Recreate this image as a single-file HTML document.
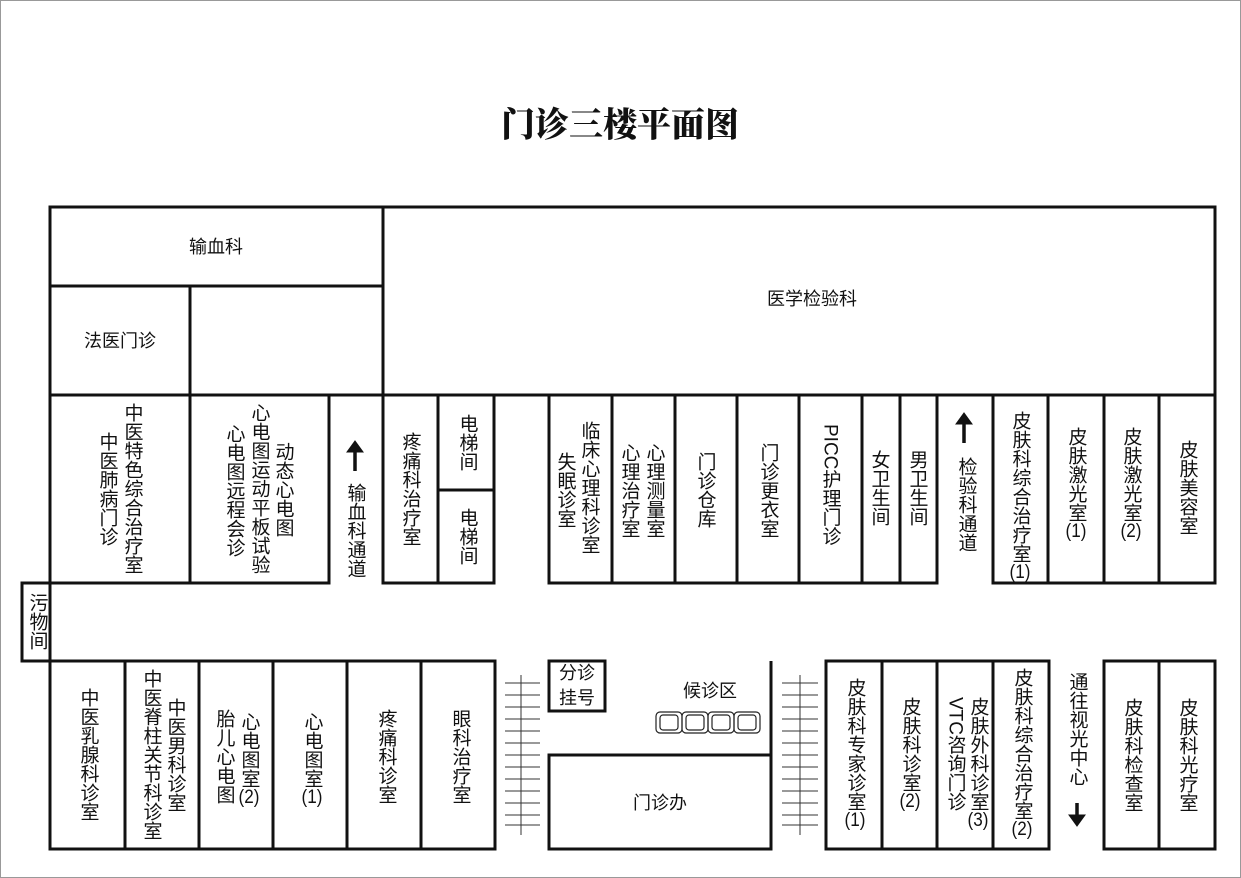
<!DOCTYPE html>
<html><head><meta charset="utf-8">
<style>
html,body{margin:0;padding:0;background:#fff}
#p{position:relative;width:1241px;height:878px;overflow:hidden;background:#fff;font-family:"Liberation Sans","Noto Sans CJK SC",sans-serif;color:#111}
svg{position:absolute;left:0;top:0}
.v{position:absolute;writing-mode:vertical-rl;text-orientation:mixed;font-size:19px;line-height:1;transform:translateX(-50%);white-space:nowrap}
.h{position:absolute;font-size:18px;line-height:1;transform:translate(-50%,-50%);white-space:nowrap}
.u{text-combine-upright:all}
#t{position:absolute;left:620px;top:122px;transform:translate(-50%,-50%);font-family:"Noto Serif CJK SC","Noto Sans CJK SC",serif;font-weight:900;font-size:34px;white-space:nowrap}
</style></head><body><div id="p">
<svg width="1241" height="878" viewBox="0 0 1241 878">
<rect x="0.5" y="0.5" width="1240" height="877" fill="none" stroke="#999" stroke-width="1"/>
<g fill="none" stroke="#111" stroke-width="3">
<rect x="50" y="207" width="333" height="79"/>
<rect x="50" y="286" width="140" height="109"/>
<rect x="190" y="286" width="193" height="109"/>
<rect x="383" y="207" width="832" height="188"/>
<rect x="50" y="395" width="140" height="188"/>
<rect x="190" y="395" width="139" height="188"/>
<rect x="383" y="395" width="55" height="188"/>
<rect x="438" y="395" width="56" height="95"/>
<rect x="438" y="490" width="56" height="93"/>
<rect x="549" y="395" width="63" height="188"/>
<rect x="612" y="395" width="63" height="188"/>
<rect x="675" y="395" width="62" height="188"/>
<rect x="737" y="395" width="62" height="188"/>
<rect x="799" y="395" width="63" height="188"/>
<rect x="862" y="395" width="38" height="188"/>
<rect x="900" y="395" width="37" height="188"/>
<rect x="993" y="395" width="55" height="188"/>
<rect x="1048" y="395" width="56" height="188"/>
<rect x="1104" y="395" width="55" height="188"/>
<rect x="1159" y="395" width="56" height="188"/>
<rect x="22" y="583" width="28" height="78"/>
<line x1="22" y1="661" x2="495" y2="661"/>
<rect x="50" y="661" width="75" height="188"/>
<rect x="125" y="661" width="74" height="188"/>
<rect x="199" y="661" width="74" height="188"/>
<rect x="273" y="661" width="74" height="188"/>
<rect x="347" y="661" width="74" height="188"/>
<rect x="421" y="661" width="74" height="188"/>
<rect x="549" y="661" width="56" height="50"/>
<line x1="771" y1="661" x2="771" y2="755"/>
<rect x="549" y="755" width="222" height="94"/>
<rect x="826" y="661" width="56" height="188"/>
<rect x="882" y="661" width="55" height="188"/>
<rect x="937" y="661" width="56" height="188"/>
<rect x="993" y="661" width="56" height="188"/>
<rect x="1104" y="661" width="55" height="188"/>
<rect x="1159" y="661" width="56" height="188"/>
</g>
<g stroke="#333" stroke-width="1">
<line x1="521" y1="675" x2="521" y2="835"/>
<line x1="800" y1="675" x2="800" y2="835"/>
<path d="M505 683H540M505 695H540M505 707H540M505 719H540M505 731H540M505 743H540M505 755H540M505 767H540M505 779H540M505 791H540M505 803H540M505 815H540M505 825H540"/>
<path d="M782 683H818M782 695H818M782 707H818M782 719H818M782 731H818M782 743H818M782 755H818M782 767H818M782 779H818M782 791H818M782 803H818M782 815H818M782 825H818"/>
</g>
<g fill="none" stroke="#222" stroke-width="1.2">
<rect x="656" y="712" width="26" height="21" rx="4"/><rect x="660" y="715" width="18" height="15" rx="3"/>
<rect x="682" y="712" width="26" height="21" rx="4"/><rect x="686" y="715" width="18" height="15" rx="3"/>
<rect x="708" y="712" width="26" height="21" rx="4"/><rect x="712" y="715" width="18" height="15" rx="3"/>
<rect x="734" y="712" width="26" height="21" rx="4"/><rect x="738" y="715" width="18" height="15" rx="3"/>
</g>
<g stroke="#111" stroke-width="3.5" fill="#111">
<line x1="355" y1="449" x2="355" y2="471"/><path d="M347 452L355 441L363 452Z" stroke-width="1"/>
<line x1="964" y1="421" x2="964" y2="443"/><path d="M956 424L964 413L972 424Z" stroke-width="1"/>
<line x1="1077" y1="803" x2="1077" y2="818"/><path d="M1069 815L1077 826L1085 815Z" stroke-width="1"/>
</g>
</svg>
<div id="t">门诊三楼平面图</div>
<div class="h" style="left:216px;top:247px">输血科</div>
<div class="h" style="left:120px;top:341px">法医门诊</div>
<div class="h" style="left:812px;top:299px">医学检验科</div>
<div class="h" style="left:577px;top:673px">分诊</div>
<div class="h" style="left:577px;top:698px">挂号</div>
<div class="h" style="left:710px;top:691px">候诊区</div>
<div class="h" style="left:660px;top:803px">门诊办</div>

<div class="v" style="left:132px;top:403px">中医特色综合治疗室</div>
<div class="v" style="left:107px;top:432px">中医肺病门诊</div>
<div class="v" style="left:259px;top:403px">心电图运动平板试验</div>
<div class="v" style="left:234px;top:424px">心电图远程会诊</div>
<div class="v" style="left:283px;top:442px">动态心电图</div>
<div class="v" style="left:355px;top:483px">输血科通道</div>
<div class="v" style="left:410px;top:432px">疼痛科治疗室</div>
<div class="v" style="left:467px;top:414px">电梯间</div>
<div class="v" style="left:467px;top:508px">电梯间</div>
<div class="v" style="left:589px;top:421px">临床心理科诊室</div>
<div class="v" style="left:565px;top:452px">失眠诊室</div>
<div class="v" style="left:654px;top:443px">心理测量室</div>
<div class="v" style="left:629px;top:443px">心理治疗室</div>
<div class="v" style="left:705px;top:452px">门诊仓库</div>
<div class="v" style="left:768px;top:443px">门诊更衣室</div>
<div class="v" style="left:830px;top:424px">PICC护理门诊</div>
<div class="v" style="left:879px;top:450px">女卫生间</div>
<div class="v" style="left:917px;top:450px">男卫生间</div>
<div class="v" style="left:966px;top:457px">检验科通道</div>
<div class="v" style="left:1020px;top:411px">皮肤科综合治疗室<span class="u">(1)</span></div>
<div class="v" style="left:1076px;top:427px">皮肤激光室<span class="u">(1)</span></div>
<div class="v" style="left:1131px;top:427px">皮肤激光室<span class="u">(2)</span></div>
<div class="v" style="left:1187px;top:440px">皮肤美容室</div>

<div class="v" style="left:37px;top:593px">污物间</div>
<div class="v" style="left:88px;top:688px">中医乳腺科诊室</div>
<div class="v" style="left:151px;top:669px">中医脊柱关节科诊室</div>
<div class="v" style="left:175px;top:698px">中医男科诊室</div>
<div class="v" style="left:224px;top:709px">胎儿心电图</div>
<div class="v" style="left:249px;top:712px">心电图室<span class="u">(2)</span></div>
<div class="v" style="left:312px;top:712px">心电图室<span class="u">(1)</span></div>
<div class="v" style="left:386px;top:709px">疼痛科诊室</div>
<div class="v" style="left:460px;top:709px">眼科治疗室</div>
<div class="v" style="left:855px;top:678px">皮肤科专家诊室<span class="u">(1)</span></div>
<div class="v" style="left:910px;top:697px">皮肤科诊室<span class="u">(2)</span></div>
<div class="v" style="left:978px;top:697px">皮肤外科诊室<span class="u">(3)</span></div>
<div class="v" style="left:955px;top:697px">VTC咨询门诊</div>
<div class="v" style="left:1022px;top:668px">皮肤科综合治疗室<span class="u">(2)</span></div>
<div class="v" style="left:1077px;top:672px">通往视光中心</div>
<div class="v" style="left:1132px;top:698px">皮肤科检查室</div>
<div class="v" style="left:1187px;top:698px">皮肤科光疗室</div>
</div></body></html>
